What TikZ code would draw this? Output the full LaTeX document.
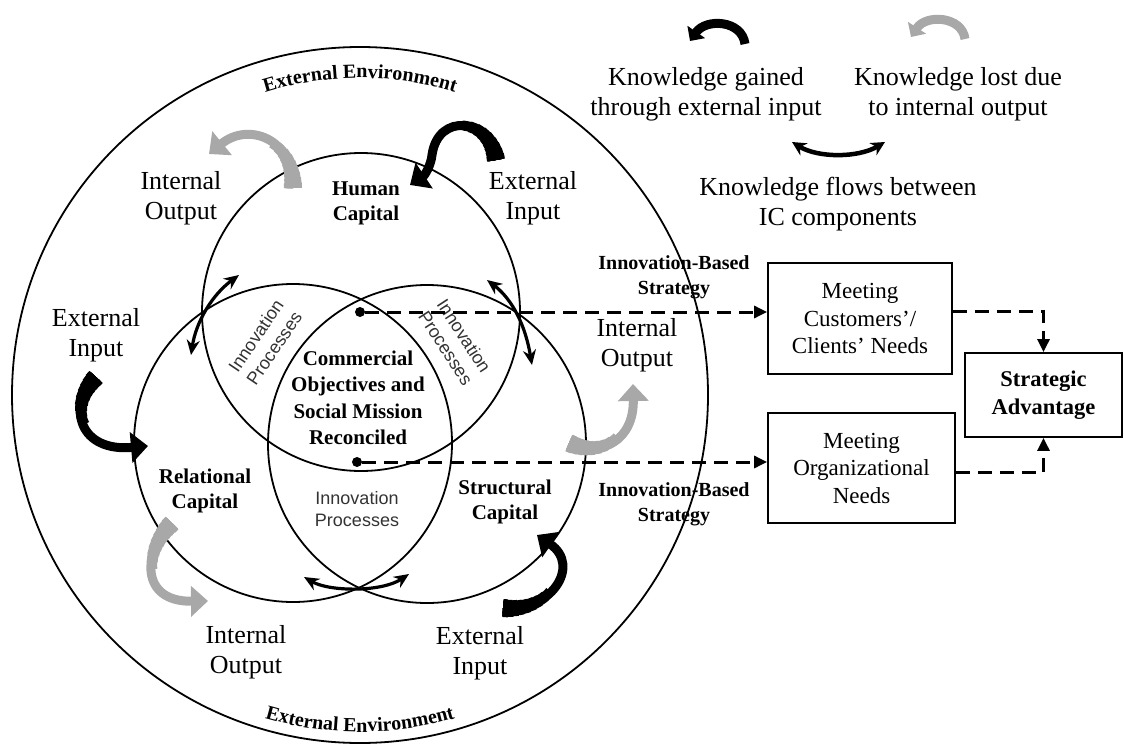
\documentclass[tikz,border=0pt]{standalone}
\usepackage{fontspec}
\setmainfont{Liberation Serif}
\setsansfont{Liberation Sans}
\usetikzlibrary{arrows.meta,decorations.text}
\definecolor{flowgray}{gray}{0.66}
\definecolor{inkgray}{gray}{0.2}

% a broad curved arrow that narrows from its tail towards its head
\newcommand\taperflow[2]{%
  \draw[draw=#1, line width=9pt, -{Triangle[length=17pt,width=30pt]}] #2;
  \foreach \w/\l in {18/5, 17/10, 16/15, 15/20, 14/26, 13/32, 12/38, 11/45, 10/52}
    {\draw[draw=#1, line width=\w pt, dash pattern=on \l pt off 2000pt] #2;}
}

\begin{document}
\begin{tikzpicture}[x=1pt,y=-1pt,
  ringnode/.style={circle, draw, line width=1.8pt, inner sep=0pt},
  lbl/.style={font=\fontsize{26}{30}\selectfont, align=center, inner sep=0pt},
  capname/.style={font=\bfseries\fontsize{21}{25}\selectfont, align=center, inner sep=0pt},
  core/.style={font=\bfseries\fontsize{21}{26.5}\selectfont, align=center, inner sep=0pt},
  innov/.style={font=\sffamily\fontsize{18}{22}\selectfont, align=center, inner sep=0pt, text=inkgray},
  strat/.style={font=\bfseries\fontsize{20}{25}\selectfont, align=center, inner sep=0pt},
  needbox/.style={draw, line width=1.8pt, font=\fontsize{23}{27.5}\selectfont, align=center, inner sep=0pt},
  goalbox/.style={draw, line width=1.8pt, font=\bfseries\fontsize{22.5}{28}\selectfont, align=center, inner sep=0pt},
  dotnode/.style={circle, fill, inner sep=0pt, minimum size=10pt},
  smallgain/.style={line width=9pt, draw=black, -{Triangle[length=11pt,width=21pt]}},
  smallloss/.style={line width=9pt, draw=flowgray, -{Triangle[length=11pt,width=21pt]}},
  kflow/.style={line width=3.2pt, {Stealth[length=15pt,width=13pt]}-{Stealth[length=15pt,width=13pt]}},
  stratflow/.style={line width=3pt, dash pattern=on 14pt off 8pt, -{Triangle[length=13pt,width=12pt]}},
  envtext/.style={decorate, decoration={text along path, text align=center,
    text={|\bfseries\fontsize{20}{24}\selectfont|External Environment}}}
]
\useasboundingbox (0,0) rectangle (1124,749);

% environment and the three capital circles
\node[ringnode, minimum size=696pt] (env) at (360,395) {};
\node[ringnode, minimum size=318pt] (hum) at (361,312) {};
\node[ringnode, minimum size=318pt] (rel) at (293,443) {};
\node[ringnode, minimum size=318pt] (str) at (427,444) {};

% curved environment labels
\path[envtext] (360,395) ++(-108:317) arc[start angle=-108, end angle=-72, radius=317];
\path[envtext] (360,395) ++(107:337) arc[start angle=107, end angle=73, radius=337];

% labels inside the circles
\node[capname] (hc) at (366,203) {Human\\Capital};
\node[capname] (rc) at (205,491) {Relational\\Capital};
\node[capname] (sc) at (505,502) {Structural\\Capital};
\node[core] (cm) at (358,398) {Commercial\\Objectives and\\Social Mission\\Reconciled};
\node[innov, rotate=56] (ip1) at (265,342) {Innovation\\Processes};
\node[innov, rotate=-57] (ip2) at (455,342) {Innovation\\Processes};
\node[innov] (ip3) at (357,509) {Innovation\\Processes};

% input / output labels
\node[lbl] (io1) at (181,198) {Internal\\Output};
\node[lbl] (ei1) at (533,198) {External\\Input};
\node[lbl] (ei2) at (96,335) {External\\Input};
\node[lbl] (io2) at (637,345) {Internal\\Output};
\node[lbl] (io3) at (246,652) {Internal\\Output};
\node[lbl] (ei3) at (480,653) {External\\Input};

% legend
\node[lbl] (lg1) at (706,94) {Knowledge gained\\through external input};
\node[lbl] (lg2) at (958,94) {Knowledge lost due\\to internal output};
\node[lbl] (lg3) at (838,204) {Knowledge flows between\\IC components};

% strategy labels and outcome boxes
\node[strat] (ibs1) at (674,277) {Innovation-Based\\Strategy};
\node[strat] (ibs2) at (674,504) {Innovation-Based\\Strategy};
\node[needbox, minimum width=184pt, minimum height=111pt] (b1) at (860,318.5) {Meeting\\Customers’/\\Clients’ Needs};
\node[needbox, minimum width=187pt, minimum height=110pt] (b2) at (861.5,468) {Meeting\\Organizational\\Needs};
\node[goalbox, minimum width=157pt, minimum height=84pt] (b3) at (1043.5,395) {Strategic\\Advantage};

% reconciliation points
\node[dotnode] (d1) at (360,312) {};
\node[dotnode] (d2) at (357,462) {};

% strategy connectors
\draw[stratflow] (d1) -- (d1 -| b1.west);
\draw[stratflow] (d2) -- (d2 -| b2.west);
\draw[stratflow] ([yshift=7pt]b1.east) -| (b3.north);
\draw[stratflow] ([yshift=-4pt]b2.east) -| (b3.south);

% knowledge flows between components
\coordinate (f1a) at (191,355); \coordinate (f1b) at (239,275);
\coordinate (f2a) at (487,280); \coordinate (f2b) at (532,365);
\coordinate (f3a) at (304,577); \coordinate (f3b) at (409,574);
\draw[kflow] (f1a) .. controls (196,322) and (212,295) .. (f1b);
\draw[kflow] (f2a) .. controls (508,296) and (524,318) .. (f2b);
\draw[kflow] (f3a) .. controls (330,592) and (382,592) .. (f3b);

% external input (gain) and internal output (loss) arrows
\coordinate (ga1) at (496,160); \coordinate (gb1) at (410,185);
\coordinate (ga2) at (96,377);  \coordinate (gb2) at (148,446);
\coordinate (ga3) at (503,608); \coordinate (gb3) at (537,535);
\taperflow{black}{(ga1) .. controls (490,118) and (438,112) .. (432,155) .. controls (431,165) and (425,175) .. (gb1)}
\taperflow{black}{(ga2) .. controls (66,408) and (80,452) .. (gb2)}
\taperflow{black}{(ga3) .. controls (550,613) and (582,566) .. (gb3)}

\coordinate (la1) at (293,188); \coordinate (lb1) at (209,154);
\coordinate (la2) at (172,523); \coordinate (lb2) at (208,601);
\coordinate (la3) at (569,443); \coordinate (lb3) at (633,384);
\taperflow{flowgray}{(la1) .. controls (294,138) and (248,122) .. (lb1)}
\taperflow{flowgray}{(la2) .. controls (142,552) and (140,602) .. (lb2)}
\taperflow{flowgray}{(la3) .. controls (602,458) and (634,440) .. (lb3)}

% legend arrows
\coordinate (ka) at (745,44); \coordinate (kb) at (690,41);
\coordinate (kc) at (965,39); \coordinate (kd) at (911,37);
\coordinate (ke) at (792,142); \coordinate (kf) at (885,142);
\draw[smallgain] (ka) .. controls (742,20) and (706,18) .. (kb);
\draw[smallloss] (kc) .. controls (962,16) and (926,14) .. (kd);
\draw[line width=4.5pt, {Stealth[length=14pt,width=14pt]}-{Stealth[length=14pt,width=14pt]}]
  (ke) .. controls (818,158) and (858,158) .. (kf);
\end{tikzpicture}
\end{document}
